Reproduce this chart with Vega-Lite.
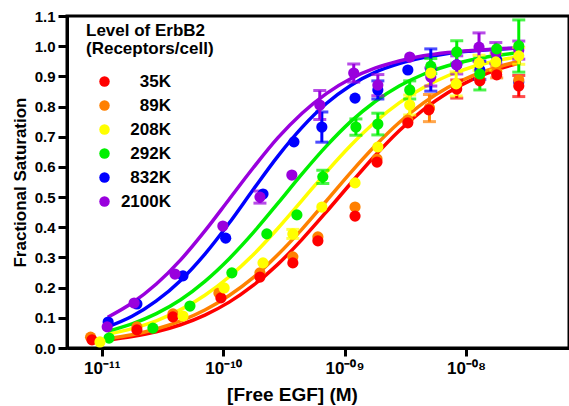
{
 "$schema": "https://vega.github.io/schema/vega-lite/v6.json",
 "width": 502, "height": 332,
 "autosize": {"type": "none"},
 "padding": {"left": 67, "top": 16, "right": 0, "bottom": 58},
 "config": {
  "font": "Liberation Sans",
  "view": {"stroke": "#000", "strokeWidth": 3},
  "axis": {"domainColor": "#000", "domainWidth": 3, "tickColor": "#000", "tickWidth": 3, "labelColor": "#000", "titleColor": "#000", "labelFontWeight": "bold", "titleFontWeight": "bold", "grid": false},
  "axisX": {"labelFontSize": 17, "tickSize": 8, "labelPadding": 4, "titleFontSize": 19, "titleX": 225, "titleY": 52, "titleBaseline": "alphabetic", "titleAnchor": "middle"},
  "axisY": {"labelFontSize": 15, "tickSize": 9, "labelPadding": 3, "titleFontSize": 17, "titleX": -42, "titleY": 166, "titleAngle": 270, "titleAlign": "center", "titleBaseline": "alphabetic", "labelOverlap": false}
 },
 "title": {"text": "EGF Binding", "fontSize": 26, "fontWeight": "bold", "anchor": "start", "frame": "group", "dx": 93, "offset": 17, "baseline": "alphabetic", "color": "#000"},
 "datasets": {
  "curves": [
   {"s":"35K","x":1.122e-11,"y":0.026},{"s":"35K","x":1.778e-11,"y":0.038},{"s":"35K","x":2.818e-11,"y":0.054},{"s":"35K","x":4.467e-11,"y":0.077},{"s":"35K","x":7.079e-11,"y":0.109},{"s":"35K","x":1.122e-10,"y":0.152},{"s":"35K","x":1.778e-10,"y":0.208},{"s":"35K","x":2.818e-10,"y":0.277},{"s":"35K","x":4.467e-10,"y":0.360},{"s":"35K","x":7.079e-10,"y":0.451},{"s":"35K","x":1.122e-9,"y":0.545},{"s":"35K","x":1.778e-9,"y":0.637},{"s":"35K","x":2.818e-9,"y":0.720},{"s":"35K","x":4.467e-9,"y":0.790},{"s":"35K","x":7.079e-9,"y":0.846},{"s":"35K","x":1.122e-8,"y":0.889},{"s":"35K","x":1.778e-8,"y":0.922},{"s":"35K","x":2.818e-8,"y":0.945},
   {"s":"89K","x":1.122e-11,"y":0.031},{"s":"89K","x":1.778e-11,"y":0.044},{"s":"89K","x":2.818e-11,"y":0.063},{"s":"89K","x":4.467e-11,"y":0.090},{"s":"89K","x":7.079e-11,"y":0.126},{"s":"89K","x":1.122e-10,"y":0.174},{"s":"89K","x":1.778e-10,"y":0.234},{"s":"89K","x":2.818e-10,"y":0.309},{"s":"89K","x":4.467e-10,"y":0.394},{"s":"89K","x":7.079e-10,"y":0.487},{"s":"89K","x":1.122e-9,"y":0.581},{"s":"89K","x":1.778e-9,"y":0.669},{"s":"89K","x":2.818e-9,"y":0.747},{"s":"89K","x":4.467e-9,"y":0.812},{"s":"89K","x":7.079e-9,"y":0.863},{"s":"89K","x":1.122e-8,"y":0.902},{"s":"89K","x":1.778e-8,"y":0.930},{"s":"89K","x":2.818e-8,"y":0.951},
   {"s":"208K","x":1.122e-11,"y":0.045},{"s":"208K","x":1.778e-11,"y":0.064},{"s":"208K","x":2.818e-11,"y":0.090},{"s":"208K","x":4.467e-11,"y":0.127},{"s":"208K","x":7.079e-11,"y":0.175},{"s":"208K","x":1.122e-10,"y":0.236},{"s":"208K","x":1.778e-10,"y":0.310},{"s":"208K","x":2.818e-10,"y":0.396},{"s":"208K","x":4.467e-10,"y":0.489},{"s":"208K","x":7.079e-10,"y":0.583},{"s":"208K","x":1.122e-9,"y":0.671},{"s":"208K","x":1.778e-9,"y":0.748},{"s":"208K","x":2.818e-9,"y":0.812},{"s":"208K","x":4.467e-9,"y":0.863},{"s":"208K","x":7.079e-9,"y":0.902},{"s":"208K","x":1.122e-8,"y":0.931},{"s":"208K","x":1.778e-8,"y":0.952},{"s":"208K","x":2.818e-8,"y":0.966},
   {"s":"292K","x":1.122e-11,"y":0.056},{"s":"292K","x":1.778e-11,"y":0.080},{"s":"292K","x":2.818e-11,"y":0.114},{"s":"292K","x":4.467e-11,"y":0.160},{"s":"292K","x":7.079e-11,"y":0.221},{"s":"292K","x":1.122e-10,"y":0.296},{"s":"292K","x":1.778e-10,"y":0.383},{"s":"292K","x":2.818e-10,"y":0.479},{"s":"292K","x":4.467e-10,"y":0.577},{"s":"292K","x":7.079e-10,"y":0.669},{"s":"292K","x":1.122e-9,"y":0.750},{"s":"292K","x":1.778e-9,"y":0.816},{"s":"292K","x":2.818e-9,"y":0.868},{"s":"292K","x":4.467e-9,"y":0.907},{"s":"292K","x":7.079e-9,"y":0.935},{"s":"292K","x":1.122e-8,"y":0.955},{"s":"292K","x":1.778e-8,"y":0.969},{"s":"292K","x":2.818e-8,"y":0.979},
   {"s":"832K","x":1.122e-11,"y":0.070},{"s":"832K","x":1.778e-11,"y":0.105},{"s":"832K","x":2.818e-11,"y":0.156},{"s":"832K","x":4.467e-11,"y":0.224},{"s":"832K","x":7.079e-11,"y":0.311},{"s":"832K","x":1.122e-10,"y":0.414},{"s":"832K","x":1.778e-10,"y":0.526},{"s":"832K","x":2.818e-10,"y":0.635},{"s":"832K","x":4.467e-10,"y":0.731},{"s":"832K","x":7.079e-10,"y":0.810},{"s":"832K","x":1.122e-9,"y":0.870},{"s":"832K","x":1.778e-9,"y":0.913},{"s":"832K","x":2.818e-9,"y":0.942},{"s":"832K","x":4.467e-9,"y":0.962},{"s":"832K","x":7.079e-9,"y":0.976},{"s":"832K","x":1.122e-8,"y":0.984},{"s":"832K","x":1.778e-8,"y":0.990},{"s":"832K","x":2.818e-8,"y":0.994},
   {"s":"2100K","x":1.122e-11,"y":0.102},{"s":"2100K","x":1.778e-11,"y":0.149},{"s":"2100K","x":2.818e-11,"y":0.212},{"s":"2100K","x":4.467e-11,"y":0.292},{"s":"2100K","x":7.079e-11,"y":0.388},{"s":"2100K","x":1.122e-10,"y":0.493},{"s":"2100K","x":1.778e-10,"y":0.598},{"s":"2100K","x":2.818e-10,"y":0.696},{"s":"2100K","x":4.467e-10,"y":0.778},{"s":"2100K","x":7.079e-10,"y":0.843},{"s":"2100K","x":1.122e-9,"y":0.892},{"s":"2100K","x":1.778e-9,"y":0.927},{"s":"2100K","x":2.818e-9,"y":0.951},{"s":"2100K","x":4.467e-9,"y":0.968},{"s":"2100K","x":7.079e-9,"y":0.979},{"s":"2100K","x":1.122e-8,"y":0.986},{"s":"2100K","x":1.778e-8,"y":0.991},{"s":"2100K","x":2.818e-8,"y":0.994}
  ],
  "points": [
   {"s":"832K","x":1.13e-11,"y":0.086},{"s":"832K","x":1.95e-11,"y":0.146},{"s":"832K","x":4.67e-11,"y":0.239},{"s":"832K","x":1.05e-10,"y":0.364},{"s":"832K","x":2.13e-10,"y":0.510},{"s":"832K","x":3.83e-10,"y":0.683},{"s":"832K","x":6.5e-10,"y":0.732,"lo":0.682,"hi":0.782},{"s":"832K","x":1.22e-9,"y":0.828},{"s":"832K","x":1.88e-9,"y":0.855,"lo":0.825,"hi":0.885},{"s":"832K","x":3.32e-9,"y":0.921},{"s":"832K","x":5.13e-9,"y":0.921,"lo":0.851,"hi":0.991},{"s":"832K","x":8.39e-9,"y":0.938},{"s":"832K","x":1.30e-8,"y":0.921,"lo":0.89,"hi":0.95},{"s":"832K","x":1.79e-8,"y":0.954},{"s":"832K","x":2.72e-8,"y":0.881},
   {"s":"2100K","x":1.11e-11,"y":0.070},{"s":"2100K","x":1.85e-11,"y":0.149},{"s":"2100K","x":4.01e-11,"y":0.245},{"s":"2100K","x":9.95e-11,"y":0.404},{"s":"2100K","x":2.01e-10,"y":0.500,"lo":0.48,"hi":0.52},{"s":"2100K","x":3.68e-10,"y":0.573},{"s":"2100K","x":6.25e-10,"y":0.805,"lo":0.757,"hi":0.853},{"s":"2100K","x":1.19e-9,"y":0.911,"lo":0.881,"hi":0.941},{"s":"2100K","x":1.88e-9,"y":0.871,"lo":0.836,"hi":0.906},{"s":"2100K","x":3.44e-9,"y":0.964},{"s":"2100K","x":5.13e-9,"y":0.898,"lo":0.868,"hi":0.928},{"s":"2100K","x":8.39e-9,"y":0.938,"lo":0.908,"hi":0.968},{"s":"2100K","x":1.28e-8,"y":0.997,"lo":0.95,"hi":1.044},{"s":"2100K","x":1.76e-8,"y":0.977,"lo":0.942,"hi":1.012},{"s":"2100K","x":2.72e-8,"y":0.987,"lo":0.957,"hi":1.017},
   {"s":"89K","x":8.1e-12,"y":0.036},{"s":"89K","x":1.95e-11,"y":0.070},{"s":"89K","x":3.86e-11,"y":0.113},{"s":"89K","x":9.23e-11,"y":0.182},{"s":"89K","x":2.01e-10,"y":0.249},{"s":"89K","x":3.75e-10,"y":0.302},{"s":"89K","x":6.03e-10,"y":0.368},{"s":"89K","x":1.22e-9,"y":0.467},{"s":"89K","x":1.85e-9,"y":0.626},{"s":"89K","x":3.32e-9,"y":0.755},{"s":"89K","x":5.0e-9,"y":0.795,"lo":0.75,"hi":0.84},{"s":"89K","x":8.39e-9,"y":0.868},{"s":"89K","x":1.30e-8,"y":0.891},{"s":"89K","x":1.79e-8,"y":0.915,"lo":0.895,"hi":0.935},{"s":"89K","x":2.72e-8,"y":0.888},
   {"s":"35K","x":8.32e-12,"y":0.027},{"s":"35K","x":1.95e-11,"y":0.060},{"s":"35K","x":3.86e-11,"y":0.103},{"s":"35K","x":9.59e-11,"y":0.166},{"s":"35K","x":2.01e-10,"y":0.235},{"s":"35K","x":3.75e-10,"y":0.282},{"s":"35K","x":6.03e-10,"y":0.355},{"s":"35K","x":1.22e-9,"y":0.437},{"s":"35K","x":1.85e-9,"y":0.616},{"s":"35K","x":3.32e-9,"y":0.746},{"s":"35K","x":4.94e-9,"y":0.789},{"s":"35K","x":8.39e-9,"y":0.858,"lo":0.828,"hi":0.888},{"s":"35K","x":1.30e-8,"y":0.885},{"s":"35K","x":1.79e-8,"y":0.905},{"s":"35K","x":2.72e-8,"y":0.868,"lo":0.833,"hi":0.903},
   {"s":"292K","x":1.15e-11,"y":0.033},{"s":"292K","x":2.64e-11,"y":0.066},{"s":"292K","x":5.33e-11,"y":0.139},{"s":"292K","x":1.18e-10,"y":0.249},{"s":"292K","x":2.29e-10,"y":0.378},{"s":"292K","x":4.05e-10,"y":0.441},{"s":"292K","x":6.62e-10,"y":0.567,"lo":0.545,"hi":0.589},{"s":"292K","x":1.24e-9,"y":0.732,"lo":0.705,"hi":0.759},{"s":"292K","x":1.88e-9,"y":0.742,"lo":0.706,"hi":0.778},{"s":"292K","x":3.44e-9,"y":0.855,"lo":0.825,"hi":0.885},{"s":"292K","x":5.13e-9,"y":0.934,"lo":0.909,"hi":0.959},{"s":"292K","x":8.39e-9,"y":0.981,"lo":0.944,"hi":1.018},{"s":"292K","x":1.30e-8,"y":0.908,"lo":0.855,"hi":0.961},{"s":"292K","x":1.79e-8,"y":0.991},{"s":"292K","x":2.72e-8,"y":1.001,"lo":0.914,"hi":1.087},
   {"s":"208K","x":9.68e-12,"y":0.020},{"s":"208K","x":4.67e-11,"y":0.106},{"s":"208K","x":1.02e-10,"y":0.199},{"s":"208K","x":2.13e-10,"y":0.282},{"s":"208K","x":3.75e-10,"y":0.378,"lo":0.363,"hi":0.393},{"s":"208K","x":6.5e-10,"y":0.467},{"s":"208K","x":1.22e-9,"y":0.547},{"s":"208K","x":1.88e-9,"y":0.666},{"s":"208K","x":3.44e-9,"y":0.805,"lo":0.772,"hi":0.838},{"s":"208K","x":5.13e-9,"y":0.911},{"s":"208K","x":8.3e-9,"y":0.875,"lo":0.835,"hi":0.915},{"s":"208K","x":1.28e-8,"y":0.944,"lo":0.92,"hi":0.97},{"s":"208K","x":1.76e-8,"y":0.948,"lo":0.92,"hi":0.976},{"s":"208K","x":2.72e-8,"y":0.968,"lo":0.94,"hi":0.996}
  ]
 },
 "layer": [
  {
   "data": {"name": "curves"},
   "mark": {"type": "line", "strokeWidth": 3.5, "interpolate": "monotone"},
   "encoding": {
    "x": {"field": "x", "type": "quantitative",
     "scale": {"type": "log", "domain": [5.18e-12, 7.05e-8], "nice": false},
     "axis": {"title": "[Free EGF] (M)", "values": [1e-11, 1e-10, 1e-9, 1e-8], "labelExpr": "'10' + (datum.value < 5e-11 ? '⁻¹¹' : datum.value < 5e-10 ? '⁻¹⁰' : datum.value < 5e-9 ? '⁻⁰⁹' : '⁻⁰⁸')"}},
    "y": {"field": "y", "type": "quantitative",
     "scale": {"domain": [0, 1.1], "nice": false},
     "axis": {"title": "Fractional Saturation", "values": [0, 0.1, 0.2, 0.3, 0.4, 0.5, 0.6, 0.7, 0.8, 0.9, 1.0, 1.1], "format": ".1f"}},
    "color": {"field": "s", "type": "nominal",
     "scale": {"domain": ["35K", "89K", "208K", "292K", "832K", "2100K"], "range": ["#ff0000", "#ff8000", "#ffff00", "#00f000", "#0000ff", "#9900dd"]},
     "legend": null}
   }
  },
  {
   "data": {"name": "points"},
   "transform": [{"filter": "isValid(datum.lo)"}],
   "mark": {"type": "errorbar", "ticks": true, "thickness": 3, "size": 13},
   "encoding": {
    "x": {"field": "x", "type": "quantitative", "axis": {"title": "[Free EGF] (M)", "values": [1e-11, 1e-10, 1e-9, 1e-8], "labelExpr": "'10' + (datum.value < 5e-11 ? '⁻¹¹' : datum.value < 5e-10 ? '⁻¹⁰' : datum.value < 5e-9 ? '⁻⁰⁹' : '⁻⁰⁸')"}},
    "y": {"field": "lo", "type": "quantitative", "axis": {"title": "Fractional Saturation", "values": [0, 0.1, 0.2, 0.3, 0.4, 0.5, 0.6, 0.7, 0.8, 0.9, 1.0, 1.1], "format": ".1f"}},
    "y2": {"field": "hi"},
    "color": {"field": "s", "type": "nominal", "legend": null}
   }
  },
  {
   "data": {"name": "points"},
   "mark": {"type": "circle", "size": 125, "opacity": 1},
   "encoding": {
    "x": {"field": "x", "type": "quantitative", "axis": {"title": "[Free EGF] (M)", "values": [1e-11, 1e-10, 1e-9, 1e-8], "labelExpr": "'10' + (datum.value < 5e-11 ? '⁻¹¹' : datum.value < 5e-10 ? '⁻¹⁰' : datum.value < 5e-9 ? '⁻⁰⁹' : '⁻⁰⁸')"}},
    "y": {"field": "y", "type": "quantitative", "axis": {"title": "Fractional Saturation", "values": [0, 0.1, 0.2, 0.3, 0.4, 0.5, 0.6, 0.7, 0.8, 0.9, 1.0, 1.1], "format": ".1f"}},
    "color": {"field": "s", "type": "nominal",
     "legend": {"orient": "none", "legendX": 19, "legendY": 7, "title": ["Level of ErbB2", "(Receptors/cell)"], "titleFontSize": 17, "titleFontWeight": "bold", "titleLineHeight": 18, "titlePadding": 15, "titleColor": "#000", "labelFontSize": 17, "labelFontWeight": "bold", "labelColor": "#000", "labelAlign": "right", "labelOffset": 58, "symbolOffset": 10, "symbolSize": 110, "symbolType": "circle", "symbolStrokeWidth": 0, "rowPadding": 6}}
   }
  }
 ],
 "resolve": {"legend": {"color": "independent"}}
}
